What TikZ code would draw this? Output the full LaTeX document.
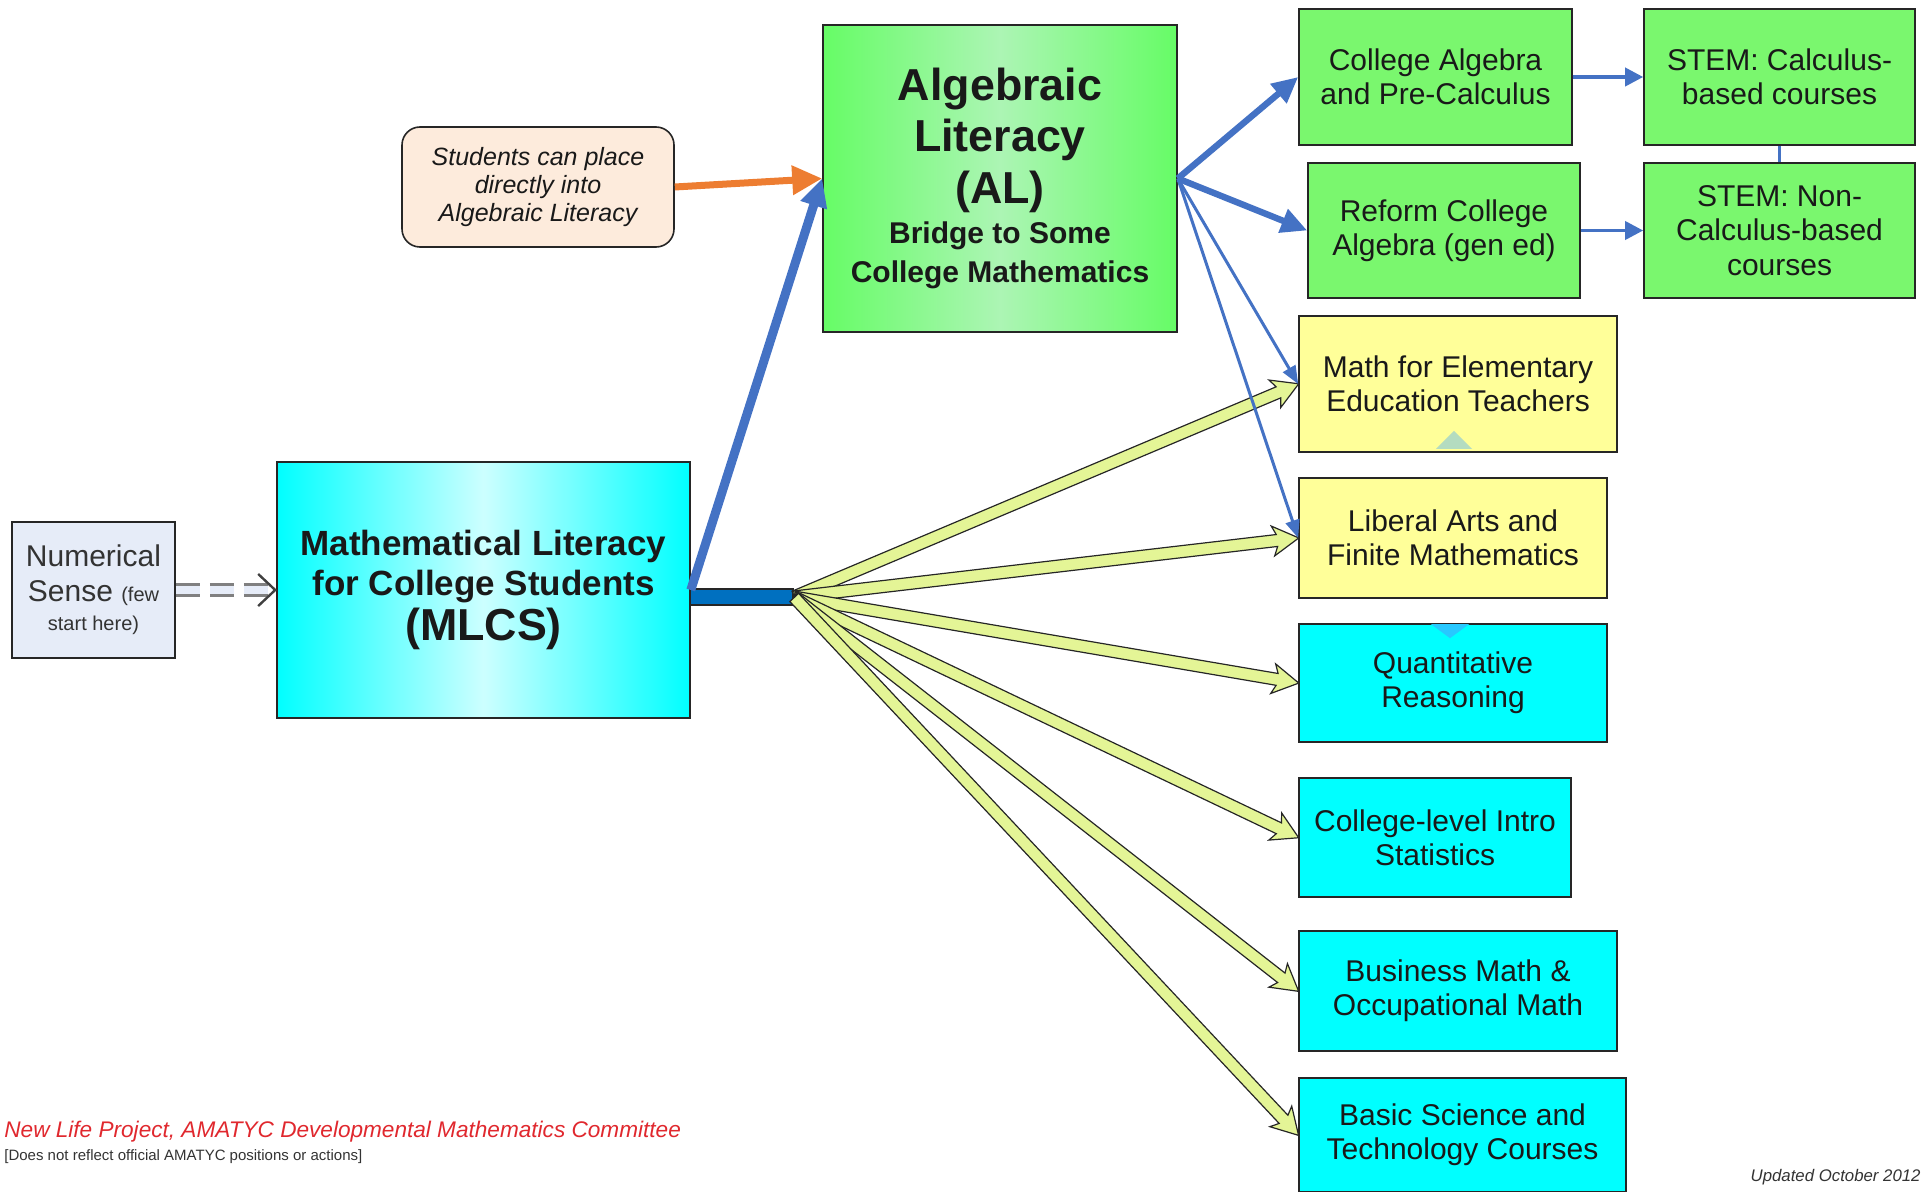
\documentclass[tikz,border=0pt]{standalone}
\usepackage{fontspec}
\setmainfont{Liberation Sans}
\usetikzlibrary{arrows.meta,calc,shapes.arrows}
\definecolor{ARBLUE}{RGB}{68,114,196}
\definecolor{ARORANGE}{RGB}{237,125,49}
\definecolor{ARYELLOW}{RGB}{228,245,150}
\definecolor{BARBLUE}{RGB}{0,112,192}
\definecolor{BOXGREEN}{RGB}{122,247,110}
\definecolor{BOXCYAN}{RGB}{0,255,255}
\definecolor{CYANLIGHT}{RGB}{204,255,255}
\definecolor{ALGREEN}{RGB}{102,252,102}
\definecolor{ALLIGHT}{RGB}{172,245,180}
\definecolor{BOXYELLOW}{RGB}{255,255,153}
\definecolor{LAVENDER}{RGB}{230,236,248}
\definecolor{PEACH}{RGB}{253,235,220}
\definecolor{NLRED}{RGB}{224,40,46}
\definecolor{TRIGREEN}{RGB}{180,220,192}
\definecolor{TRIBLUE}{RGB}{40,200,255}
\begin{document}
\begin{tikzpicture}
[
 x=0.5pt, y=-0.5pt,
 inner sep=0pt,
 BOX/.style={rectangle, draw=black!85, line width=0.8pt, align=center, text=black!90,
   font=\fontsize{15}{17.2}\selectfont, execute at begin node={\lineskiplimit=-50pt\relax}},
 GREENBOX/.style={BOX, fill=BOXGREEN},
 YELLOWBOX/.style={BOX, fill=BOXYELLOW},
 CYANBOX/.style={BOX, fill=BOXCYAN},
 NUMBOX/.style={BOX, fill=LAVENDER, text=black!80},
 NOTEBOX/.style={BOX, fill=PEACH, rounded corners=9pt, font=\fontsize{12.5}{14}\selectfont\itshape},
 BIGARR/.style={draw=ARBLUE, line width=4.5pt, -{Triangle[length=14pt,width=13pt]}},
 MIDARR/.style={draw=ARBLUE, line width=3.2pt, -{Triangle[length=13pt,width=12pt]}},
 THINARR/.style={draw=ARBLUE, line width=1.5pt, -{Triangle[length=9pt,width=7pt]}},
 SIDEARR/.style={draw=ARBLUE, line width=1.8pt, -{Triangle[length=9pt,width=9pt]}},
 ORANGEARR/.style={draw=ARORANGE, line width=3.5pt, -{Triangle[length=15pt,width=14pt]}},
 DASHARR/.style={draw=gray, line width=1.8pt, double=LAVENDER, double distance=3.6pt, dash pattern=on 12pt off 5pt},
 YARROW/.style={single arrow, draw=black!85, line width=0.6pt, fill=ARYELLOW, inner xsep=0pt, inner ysep=2.7pt,
   single arrow head extend=4.5pt, single arrow tip angle=60, single arrow head indent=2pt},
 ]
%
\useasboundingbox (0,0) rectangle (1921,1192);
%
\node [NUMBOX, minimum width=81.5pt, minimum height=68pt]  (NS)  at (93.5,590)
  {Numerical\\Sense {\fontsize{10}{12}\selectfont(few}\\[-2.5pt]{\fontsize{10}{12}\selectfont start here)}};
\node [BOX, left color=BOXCYAN, right color=BOXCYAN, middle color=CYANLIGHT, minimum width=206.5pt, minimum height=128pt,
       font=\fontsize{17.5}{20}\selectfont\bfseries]  (ML)  at (483.5,590)
  {Mathematical Literacy\\for College Students\\[2.7pt]{\fontsize{22.4}{23}\selectfont (MLCS)}};
\node [BOX, fill=BARBLUE, minimum width=51.5pt, minimum height=8pt]  (BAR)  at (741.5,597) {};
\node [NOTEBOX, minimum width=136pt, minimum height=60pt]  (SP)  at (538,187)
  {Students can place\\directly into\\Algebraic Literacy};
\node [BOX, left color=ALGREEN, right color=ALGREEN, middle color=ALLIGHT, minimum width=177pt, minimum height=153.5pt,
       font=\fontsize{22.4}{25.7}\selectfont\bfseries]  (AL)  at (1000,178.5)
  {Algebraic\\Literacy\\(AL)\\[-5.7pt]{\fontsize{15}{19.6}\selectfont Bridge to Some}\\[-6.1pt]{\fontsize{15}{19.6}\selectfont College Mathematics}};
%
\node [GREENBOX, minimum width=136.5pt, minimum height=68pt]  (CA)  at (1435.5,77)  {College Algebra\\and Pre-Calculus};
\node [GREENBOX, minimum width=135.5pt, minimum height=68pt]  (SC)  at (1779.5,77)  {STEM: Calculus-\\based courses};
\node [GREENBOX, minimum width=136pt, minimum height=67.5pt]  (RC)  at (1444,230.5)  {Reform College\\Algebra (gen ed)};
\node [GREENBOX, minimum width=135.5pt, minimum height=67.5pt]  (SN)  at (1779.5,230.5)  {STEM: Non-\\Calculus-based\\courses};
\node [YELLOWBOX, minimum width=159pt, minimum height=68pt]  (ME)  at (1458,384)  {Math for Elementary\\Education Teachers};
\node [YELLOWBOX, minimum width=154pt, minimum height=60pt]  (LA)  at (1453,538)  {Liberal Arts and\\Finite Mathematics};
\node [CYANBOX, minimum width=154pt, minimum height=59pt]  (QR)  at (1453,683)  {Quantitative\\Reasoning};
\node [CYANBOX, minimum width=136pt, minimum height=59.5pt]  (ST)  at (1435,837.5)  {College-level Intro\\Statistics};
\node [CYANBOX, minimum width=159pt, minimum height=60pt]  (BM)  at (1458,991)  {Business Math \&\\Occupational Math};
\node [CYANBOX, minimum width=163.5pt, minimum height=57pt]  (BS)  at (1462.5,1135)  {Basic Science and\\Technology Courses};
%
\fill [TRIGREEN] ([xshift=-11pt,yshift=2pt]ME.south) -- ([xshift=7pt,yshift=2pt]ME.south) -- ([xshift=-2pt,yshift=11pt]ME.south) -- cycle;
\fill [TRIBLUE] ([xshift=-11pt,yshift=-0.5pt]QR.north) -- ([xshift=8pt,yshift=-0.5pt]QR.north) -- ([xshift=-1.5pt,yshift=-7.5pt]QR.north) -- cycle;
%
\draw [DASHARR]  (NS.east) -- ([xshift=-1pt]ML.west);
\draw [black!75, line width=1.2pt]  ([xshift=-9pt,yshift=8pt]ML.west) -- ([xshift=-0.5pt]ML.west) -- ([xshift=-9pt,yshift=-8pt]ML.west);
%
\foreach \t in {ME,LA,QR,ST,BM,BS}
  {
    \path let \p1 = ($(\t.west)-(BAR.east)$), \n1 = {atan2(\y1,\x1)}, \n2 = {veclen(\x1,\y1)} in
      node [YARROW, anchor=tail, rotate=\n1, minimum height=\n2] at (BAR.east) {};
  }
%
\draw [BIGARR]  (ML.east)  -- (AL.west);
\draw [ORANGEARR]  (SP.east)  -- (AL.west);
%
\draw [MIDARR]  (AL.east)  -- (CA.west);
\draw [MIDARR]  (AL.east)  -- (RC.west);
\draw [THINARR]  (AL.east)  -- (ME.west);
\draw [THINARR]  (AL.east)  -- (LA.west);
%
\draw [SIDEARR]  (CA.east)  -- (SC.west);
\draw [SIDEARR]  (RC.east)  -- (SN.west);
\draw [ARBLUE, line width=1.2pt]  (SC.south)  -- (SN.north);
%
\node [anchor=west, text=NLRED, font=\fontsize{11.3}{13}\selectfont\itshape]  (NL)  at (4,1132)
  {New Life Project, AMATYC Developmental Mathematics Committee};
\node [anchor=west, text=black!80, font=\fontsize{7.5}{9}\selectfont]  (DN)  at (4,1157)
  {[Does not reflect official AMATYC positions or actions]};
\node [anchor=east, text=black!80, font=\fontsize{8.4}{10}\selectfont\itshape]  (UP)  at (1921,1177)
  {Updated October 2012};
\end{tikzpicture}
\end{document}
